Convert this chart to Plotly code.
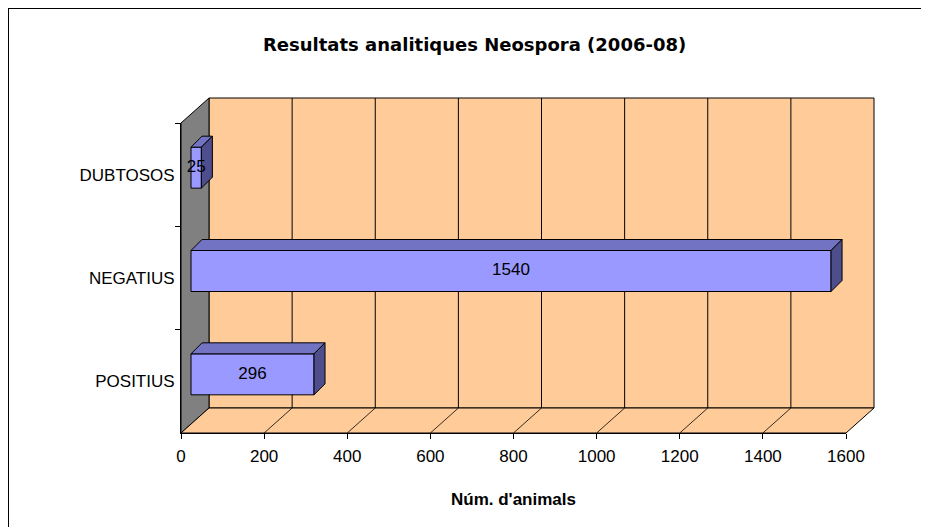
import plotly.graph_objects as go

# ---------------- data ----------------
categories = ["POSITIUS", "NEGATIUS", "DUBTOSOS"]
values = [296, 1540, 25]
x_ticks = [0, 200, 400, 600, 800, 1000, 1200, 1400, 1600]
title_text = "Resultats analitiques Neospora (2006-08)"
x_title = "Núm. d'animals"

# ---------------- geometry (screen pixel layout of the 3-D frame) ----------------
W, H = 929, 527
OX, OY = 8, 8                    # page body margin offset of the figure
X0_PX, X1_PX = 181, 846          # front floor edge: value 0 .. max
AX_MAX = x_ticks[-1]
FLOOR_PX, TOP_PX = 433, 123      # front side-wall edge (bottom / top)
N = len(categories)
K = (X1_PX - X0_PX) / AX_MAX     # px per value unit
CAT_PX = (FLOOR_PX - TOP_PX) / N  # px per category band


def xd(px):
    return (px - X0_PX) / K


def yd(py):
    return (FLOOR_PX - py) / CAT_PX


def paper_x(px):
    return (px - OX) / W


def paper_y(py):
    return 1 - (py - OY) / H


DX, DY = 28 / K, 25 / CAT_PX          # full depth of the box
BX1, BY1 = 10 / K, 7 / CAT_PX         # bar front-plane offset
DDX, DDY = 11 / K, 11 / CAT_PX        # bar thickness (depth)
BAR_H = 41 / CAT_PX                   # bar height in category units

WALL = "#FFCC99"
SIDE = "#808080"
FRONT = "#9999FF"
TOPC = "#7373C4"
SIDEC = "#4E4E8C"
FONT = "Liberation Sans, Arial, sans-serif"


def path(pts):
    return "M " + " L ".join(f"{x},{y}" for x, y in pts) + " Z"


shapes = []
# back wall
shapes.append(dict(type="path", xref="x", yref="y", layer="below",
                   path=path([(DX, DY), (AX_MAX + DX, DY), (AX_MAX + DX, N + DY), (DX, N + DY)]),
                   fillcolor=WALL, line=dict(color="black", width=1)))
# side wall
shapes.append(dict(type="path", xref="x", yref="y", layer="below",
                   path=path([(0, 0), (DX, DY), (DX, N + DY), (0, N)]),
                   fillcolor=SIDE, line=dict(color="black", width=1)))
# floor
shapes.append(dict(type="path", xref="x", yref="y", layer="below",
                   path=path([(0, 0), (AX_MAX, 0), (AX_MAX + DX, DY), (DX, DY)]),
                   fillcolor=WALL, line=dict(color="black", width=1)))
# grid lines on back wall and floor
for t in x_ticks[1:-1]:
    shapes.append(dict(type="line", xref="x", yref="y", layer="below",
                       x0=t + DX, y0=DY, x1=t + DX, y1=N + DY,
                       line=dict(color="black", width=1)))
    shapes.append(dict(type="line", xref="x", yref="y", layer="below",
                       x0=t, y0=0, x1=t + DX, y1=DY,
                       line=dict(color="black", width=0.8)))
# chart-area border (top and left visible)
shapes.append(dict(type="rect", xref="paper", yref="paper",
                   x0=paper_x(8), x1=1.05, y0=-0.05, y1=paper_y(8),
                   line=dict(color="black", width=2), fillcolor="rgba(0,0,0,0)"))

fig = go.Figure()

centers = [i + 0.5 + BY1 for i in range(N)]

# bar front faces
fig.add_trace(go.Bar(
    x=values, y=centers, base=BX1, orientation="h", width=BAR_H,
    marker=dict(color=FRONT, line=dict(color="black", width=1)),
    hoverinfo="skip", showlegend=False))

# bar top and side faces
for v, c in zip(values, centers):
    yb, yt = c - BAR_H / 2, c + BAR_H / 2
    xl, xr = BX1, BX1 + v
    top = [(xl, yt), (xr, yt), (xr + DDX, yt + DDY), (xl + DDX, yt + DDY), (xl, yt)]
    side = [(xr, yb), (xr, yt), (xr + DDX, yt + DDY), (xr + DDX, yb + DDY), (xr, yb)]
    for pts, col in ((top, TOPC), (side, SIDEC)):
        fig.add_trace(go.Scatter(
            x=[p[0] for p in pts], y=[p[1] for p in pts], mode="lines",
            fill="toself", fillcolor=col, line=dict(color="black", width=1),
            hoverinfo="skip", showlegend=False))

# value labels on the front faces
fig.add_trace(go.Scatter(
    x=[BX1 + v / 2 for v in values], y=centers, mode="text",
    text=[str(v) for v in values], textposition="middle center",
    textfont=dict(family=FONT, size=17, color="black"),
    hoverinfo="skip", showlegend=False, cliponaxis=False))

# invisible trace for the labelled front axes
fig.add_trace(go.Scatter(
    x=values, y=categories, xaxis="x2", yaxis="y2", mode="markers",
    marker=dict(opacity=0), hoverinfo="skip", showlegend=False))

fig.update_layout(
    width=W, height=H,
    margin=dict(l=0, r=0, t=0, b=0, pad=0, autoexpand=False),
    paper_bgcolor="white", plot_bgcolor="rgba(0,0,0,0)",
    shapes=shapes,
    xaxis=dict(range=[xd(OX), xd(W + OX)], visible=False, fixedrange=True),
    yaxis=dict(range=[yd(H + OY), yd(OY)], visible=False, fixedrange=True),
    xaxis2=dict(domain=[paper_x(X0_PX), paper_x(X1_PX)], range=[0, AX_MAX], anchor="y2",
                tickmode="array", tickvals=x_ticks, ticks="outside", ticklen=5,
                tickcolor="black", showline=True, linecolor="black", linewidth=1,
                showgrid=False, zeroline=False, fixedrange=True, automargin=False,
                ticklabelstandoff=3,
                tickfont=dict(family=FONT, size=17, color="black")),
    yaxis2=dict(domain=[paper_y(FLOOR_PX), paper_y(TOP_PX)], anchor="x2",
                type="category", categoryorder="array", categoryarray=categories,
                range=[-0.5, N - 0.5], tickson="boundaries", ticks="outside", ticklen=5,
                tickcolor="black", showline=True, linecolor="black", linewidth=1,
                showgrid=False, zeroline=False, fixedrange=True, automargin=False,
                ticklabelstandoff=2,
                tickfont=dict(family=FONT, size=17, color="black")),
    annotations=[
        dict(text="<b>" + title_text + "</b>", xref="paper", yref="paper",
             x=paper_x(474), y=paper_y(44), xanchor="center", yanchor="middle", showarrow=False,
             font=dict(family="DejaVu Sans", size=18, color="black")),
        dict(text="<b>" + x_title + "</b>", xref="paper", yref="paper",
             x=paper_x(513), y=paper_y(499), xanchor="center", yanchor="middle", showarrow=False,
             font=dict(family=FONT, size=17, color="black")),
    ],
)

fig.write_html("out.html")
